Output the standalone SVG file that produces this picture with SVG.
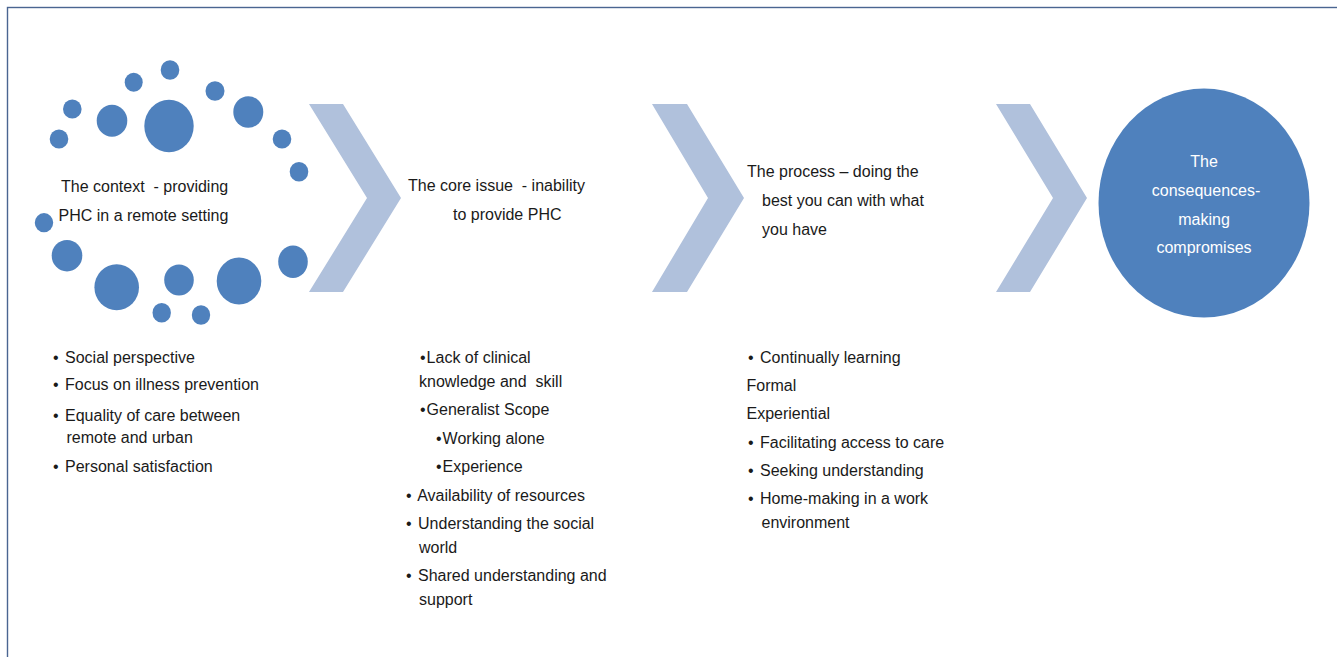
<svg xmlns="http://www.w3.org/2000/svg" width="1337" height="657" viewBox="0 0 1337 657">
<style>
  .t{font-family:"Liberation Sans",Arial,sans-serif;font-size:16px;fill:#1a1a1a;white-space:pre}
  .w{font-family:"Liberation Sans",Arial,sans-serif;font-size:16px;fill:#ffffff}
  .dot{fill:#4f81bd}
  .chev{fill:#b0c1dc}
</style>
<rect x="7.5" y="7.5" width="1340" height="660" fill="#ffffff" stroke="#4a6591" stroke-width="1.4"/>

<g id="context">
  <ellipse class="dot" cx="170" cy="70" rx="9.3" ry="9.8"/>
  <ellipse class="dot" cx="133.7" cy="82.3" rx="9" ry="9.5"/>
  <ellipse class="dot" cx="215" cy="91" rx="9.5" ry="9.8"/>
  <ellipse class="dot" cx="72.3" cy="109" rx="9.3" ry="9.6"/>
  <ellipse class="dot" cx="112" cy="120.7" rx="15.3" ry="16"/>
  <ellipse class="dot" cx="169" cy="126" rx="24.7" ry="26.3"/>
  <ellipse class="dot" cx="248.3" cy="112" rx="15" ry="15.8"/>
  <ellipse class="dot" cx="59" cy="139" rx="9.3" ry="9.6"/>
  <ellipse class="dot" cx="282" cy="139" rx="9.3" ry="9.6"/>
  <ellipse class="dot" cx="299" cy="171.7" rx="9.3" ry="9.8"/>
  <ellipse class="dot" cx="44" cy="222.7" rx="9.2" ry="9.6"/>
  <ellipse class="dot" cx="67" cy="255.7" rx="15.3" ry="15.8"/>
  <ellipse class="dot" cx="116.7" cy="287.3" rx="22.3" ry="23"/>
  <ellipse class="dot" cx="179" cy="280" rx="14.8" ry="15.5"/>
  <ellipse class="dot" cx="239" cy="281" rx="22.3" ry="23.5"/>
  <ellipse class="dot" cx="293" cy="261.7" rx="14.8" ry="16.2"/>
  <ellipse class="dot" cx="161.7" cy="312.7" rx="9.2" ry="9.8"/>
  <ellipse class="dot" cx="201" cy="315" rx="9.2" ry="9.8"/>
  <text class="t" x="61" y="192" xml:space="preserve">The context  - providing</text>
  <text class="t" x="58.5" y="221">PHC in a remote setting</text>
</g>

<g id="core-issue">
  <text class="t" x="408" y="191" xml:space="preserve">The core issue  - inability</text>
  <text class="t" x="453" y="220">to provide PHC</text>
</g>

<g id="process">
  <text class="t" x="747" y="177">The process – doing the</text>
  <text class="t" x="762" y="206">best you can with what</text>
  <text class="t" x="762" y="235">you have</text>
</g>

<g id="consequences">
  <ellipse cx="1204" cy="203" rx="105.5" ry="114.5" fill="#4f81bd"/>
  <text class="w" x="1204" y="167" text-anchor="middle">The</text>
  <text class="w" x="1206" y="196" text-anchor="middle">consequences-</text>
  <text class="w" x="1204" y="225" text-anchor="middle">making</text>
  <text class="w" x="1204" y="253" text-anchor="middle">compromises</text>
</g>

<g id="connectors">
  <polygon class="chev" points="309,104 343,104 401,198 343,292 309,292 367,198"/>
  <polygon class="chev" points="652,104 687,104 744,198 687,292 652,292 708,198"/>
  <polygon class="chev" points="996,104 1030,104 1087,198 1030,292 996,292 1053,198"/>
</g>

<g id="context-list">
  <text class="t" x="53" y="363">• <tspan dx="2">Social perspective</tspan></text>
  <text class="t" x="53" y="390">• <tspan dx="2">Focus on illness prevention</tspan></text>
  <text class="t" x="53" y="421">• <tspan dx="2">Equality of care between</tspan></text>
  <text class="t" x="66.5" y="443">remote and urban</text>
  <text class="t" x="53" y="472">• <tspan dx="2">Personal satisfaction</tspan></text>
</g>

<g id="core-list">
  <text class="t" x="420" y="363">•<tspan dx="1">Lack of clinical</tspan></text>
  <text class="t" x="419" y="387" xml:space="preserve">knowledge and  skill</text>
  <text class="t" x="420" y="415">•<tspan dx="1">Generalist Scope</tspan></text>
  <text class="t" x="436" y="444">•<tspan dx="1">Working alone</tspan></text>
  <text class="t" x="436" y="472">•<tspan dx="1">Experience</tspan></text>
  <text class="t" x="406" y="501">• <tspan dx="2">Availability of resources</tspan></text>
  <text class="t" x="406" y="529">• <tspan dx="2">Understanding the social</tspan></text>
  <text class="t" x="419" y="553">world</text>
  <text class="t" x="406" y="581">• <tspan dx="2">Shared understanding and</tspan></text>
  <text class="t" x="419" y="605">support</text>
</g>

<g id="process-list">
  <text class="t" x="748" y="363">• <tspan dx="2">Continually learning</tspan></text>
  <text class="t" x="746.5" y="391">Formal</text>
  <text class="t" x="746.5" y="419">Experiential</text>
  <text class="t" x="748" y="448">• <tspan dx="2">Facilitating access to care</tspan></text>
  <text class="t" x="748" y="476">• <tspan dx="2">Seeking understanding</tspan></text>
  <text class="t" x="748" y="504">• <tspan dx="2">Home-making in a work</tspan></text>
  <text class="t" x="761.5" y="528">environment</text>
</g>
</svg>
